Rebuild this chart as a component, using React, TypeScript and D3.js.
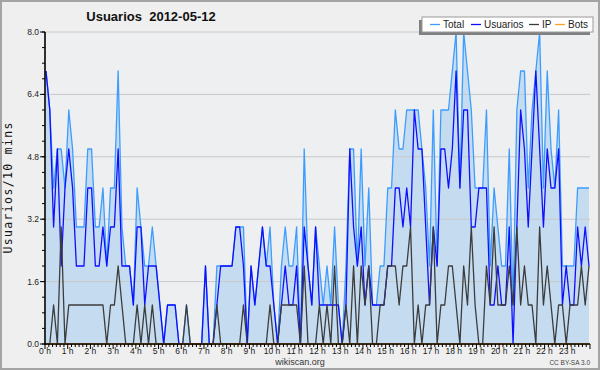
import React from "react";
import * as d3 from "d3";

const WIDTH = 600;
const HEIGHT = 370;
const PLOT = { left: 45, right: 590, top: 32, bottom: 344 };

// 10-minute buckets, 0h00 .. 23h50
const usuarios = [
  7, 6, 3, 5, 2, 4, 5, 4, 2, 2,
  2, 4, 4, 2, 2, 3, 2, 3, 3, 5,
  2, 2, 2, 1, 3, 3, 1, 2, 2, 2,
  1, 0, 1, 1, 1, 0, 0, 0, 0, 0,
  0, 0, 2, 0, 0, 1, 2, 2, 2, 2,
  3, 3, 2, 0, 2, 1, 2, 3, 2, 2,
  1, 0, 1, 2, 1, 1, 2, 0, 3, 2,
  1, 3, 1, 1, 1, 1, 1, 1, 0, 1,
  5, 3, 2, 3, 1, 2, 1, 1, 1, 1,
  2, 2, 4, 4, 3, 4, 3, 6, 5, 5,
  3, 1, 3, 2, 5, 5, 4, 5, 7, 4,
  6, 6, 3, 3, 4, 4, 4, 1, 1, 2,
  1, 1, 3, 0, 3, 6, 5, 3, 5, 7,
  5, 3, 5, 4, 4, 5, 1, 2, 1, 1,
  3, 2, 3, 2,
];

const ip = [
  0, 0, 1, 0, 3, 0, 1, 1, 1, 1,
  1, 1, 1, 1, 1, 1, 0, 1, 1, 2,
  1, 0, 0, 0, 1, 0, 1, 0, 1, 0,
  0, 0, 0, 0, 0, 0, 0, 1, 0, 0,
  0, 0, 0, 0, 0, 1, 0, 0, 0, 0,
  0, 0, 1, 0, 0, 0, 0, 0, 0, 1,
  0, 0, 1, 1, 1, 1, 1, 0, 2, 0,
  0, 0, 1, 0, 1, 0, 2, 0, 0, 1,
  0, 2, 0, 2, 1, 2, 0, 0, 1, 1,
  2, 2, 2, 1, 2, 2, 3, 0, 1, 0,
  1, 1, 3, 0, 1, 1, 2, 2, 1, 0,
  2, 1, 3, 1, 0, 0, 2, 1, 3, 1,
  1, 1, 2, 1, 3, 1, 2, 1, 1, 0,
  3, 1, 2, 1, 0, 1, 1, 0, 1, 1,
  1, 2, 1, 2,
];

const total = [
  7, 6, 4, 5, 5, 4, 6, 5, 3, 3,
  3, 5, 5, 3, 3, 4, 2, 4, 4, 7,
  3, 2, 2, 1, 4, 3, 2, 2, 3, 2,
  1, 0, 1, 1, 1, 0, 0, 1, 0, 0,
  0, 0, 2, 0, 0, 2, 2, 2, 2, 2,
  3, 3, 3, 0, 2, 1, 2, 3, 2, 3,
  1, 0, 2, 3, 2, 2, 3, 0, 5, 2,
  1, 3, 2, 1, 2, 1, 3, 1, 0, 2,
  5, 5, 2, 5, 2, 4, 1, 1, 2, 2,
  4, 4, 6, 5, 5, 6, 6, 6, 6, 5,
  4, 2, 6, 2, 6, 6, 6, 7, 8, 4,
  8, 7, 6, 4, 4, 4, 6, 2, 4, 3,
  2, 2, 5, 1, 6, 7, 7, 4, 6, 7,
  8, 4, 7, 5, 4, 6, 2, 2, 2, 2,
  4, 4, 4, 4,
];

const bots = [
  0, 0, 0, 0, 0, 0, 0, 0, 0, 0,
  0, 0, 0, 0, 0, 0, 0, 0, 0, 0,
  0, 0, 0, 0, 0, 0, 0, 0, 0, 0,
  0, 0, 0, 0, 0, 0, 0, 0, 0, 0,
  0, 0, 0, 0, 0, 0, 0, 0, 0, 0,
  0, 0, 0, 0, 0, 0, 0, 0, 0, 0,
  0, 0, 0, 0, 0, 0, 0, 0, 0, 0,
  0, 0, 0, 0, 0, 0, 0, 0, 0, 0,
  0, 0, 0, 0, 0, 0, 0, 0, 0, 0,
  0, 0, 0, 0, 0, 0, 0, 0, 0, 0,
  0, 0, 0, 0, 0, 0, 0, 0, 0, 0,
  0, 0, 0, 0, 0, 0, 0, 0, 0, 0,
  0, 0, 0, 0, 0, 0, 0, 0, 0, 0,
  0, 0, 0, 0, 0, 0, 0, 0, 0, 0,
  0, 0, 0, 0,
];

const yTicks = [0, 1.6, 3.2, 4.8, 6.4, 8.0];
const hourLabels = [
  "0 h", "1 h", "2 h", "3 h", "4 h", "5 h", "6 h", "7 h", "8 h", "9 h",
  "10 h", "11 h", "12 h", "13 h", "14 h", "15 h", "16 h", "17 h", "18 h",
  "19 h", "20 h", "21 h", "22 h", "23 h",
];

const seriesNames = ["Total", "Usuarios", "IP", "Bots"];
const seriesColors = ["#3d9dff", "#0f0fff", "#3c3c3c", "#ffa31a"];
const legendTextX = [443, 484, 542, 568];

const FONT = "'Liberation Sans', Arial, sans-serif";

const App = () => {
  const xScale = d3
    .scaleLinear()
    .domain([0, total.length - 1])
    .range([PLOT.left + 1, PLOT.right - 1]);
  const hourScale = d3
    .scaleLinear()
    .domain([0, 24])
    .range([PLOT.left, PLOT.right]);
  const yScale = d3
    .scaleLinear()
    .domain([0, 8])
    .range([PLOT.bottom, PLOT.top]);

  const line = d3
    .line<number>()
    .x((d, i) => xScale(i))
    .y((d) => yScale(d));
  const area = d3
    .area<number>()
    .x((d, i) => xScale(i))
    .y0(yScale(0))
    .y1((d) => yScale(d));

  const series = [total, usuarios, ip, bots];
  const minorY = d3.range(0, 20.5).map((k) => k * 0.4);
  const minorX = d3.range(0, 145).map((k) => k / 6);

  return (
    <svg
      width={WIDTH}
      height={HEIGHT}
      style={{ position: "absolute", left: 0, top: 0, display: "block" }}
      fontFamily={FONT}
    >
      <rect x={0} y={0} width={WIDTH} height={HEIGHT} fill="#efefef" />
      <rect
        x={1}
        y={1}
        width={WIDTH - 2}
        height={HEIGHT - 2}
        fill="none"
        stroke="#a4a4a4"
        strokeWidth={2}
      />
      <rect
        x={PLOT.left}
        y={PLOT.top}
        width={PLOT.right - PLOT.left}
        height={PLOT.bottom - PLOT.top}
        fill="#eeeff1"
      />

      {/* filled total */}
      <path d={area(total) || ""} fill="#c5dcf0" />

      {/* grid */}
      {yTicks.map((t) => (
        <line
          key={"g" + t}
          x1={PLOT.left}
          x2={PLOT.right}
          y1={yScale(t)}
          y2={yScale(t)}
          stroke="#c8c8c8"
          strokeWidth={1}
        />
      ))}

      {/* series lines */}
      {series.map((s, k) => (
        <path
          key={seriesNames[k]}
          d={line(s) || ""}
          fill="none"
          stroke={seriesColors[k]}
          strokeWidth={1.3}
          strokeLinejoin="round"
        />
      ))}

      {/* y axis */}
      <line
        x1={PLOT.left}
        x2={PLOT.left}
        y1={PLOT.top}
        y2={PLOT.bottom + 1}
        stroke="#000"
        strokeWidth={1.6}
      />
      {minorY.map((t) => (
        <line
          key={"my" + t}
          x1={PLOT.left - 3}
          x2={PLOT.left}
          y1={yScale(t)}
          y2={yScale(t)}
          stroke="#000"
          strokeWidth={1}
        />
      ))}
      {yTicks.map((t) => (
        <g key={"yt" + t}>
          <line
            x1={PLOT.left - 5}
            x2={PLOT.left}
            y1={yScale(t)}
            y2={yScale(t)}
            stroke="#000"
            strokeWidth={1}
          />
          <text
            x={PLOT.left - 6}
            y={yScale(t) + 3}
            textAnchor="end"
            fontSize={8.5}
            fill="#222"
          >
            {t.toFixed(1)}
          </text>
        </g>
      ))}
      <text
        transform={`translate(12, ${(PLOT.top + PLOT.bottom) / 2}) rotate(-90)`}
        textAnchor="middle"
        fontFamily="'DejaVu Sans Mono', monospace"
        fontSize={11.5}
        textLength={131}
        lengthAdjust="spacing"
        fill="#111"
      >
        Usuarios/10 mins
      </text>

      {/* x axis */}
      <line
        x1={PLOT.left}
        x2={PLOT.right}
        y1={PLOT.bottom}
        y2={PLOT.bottom}
        stroke="#000"
        strokeWidth={1.6}
      />
      {minorX.map((h, k) => (
        <line
          key={"mx" + k}
          x1={hourScale(h)}
          x2={hourScale(h)}
          y1={PLOT.bottom}
          y2={PLOT.bottom + (k % 6 === 0 ? 5 : 3)}
          stroke="#000"
          strokeWidth={1}
        />
      ))}
      {hourLabels.map((lab, h) => (
        <text
          key={lab}
          x={hourScale(h)}
          y={PLOT.bottom + 10}
          textAnchor="middle"
          fontSize={8.5}
          fill="#222"
        >
          {lab}
        </text>
      ))}
      <text x={300} y={365} textAnchor="middle" fontSize={9} fill="#333">
        wikiscan.org
      </text>
      <text x={590} y={365} textAnchor="end" fontSize={6.5} fill="#444">
        CC BY-SA 3.0
      </text>

      {/* title */}
      <text
        x={151}
        y={21}
        textAnchor="middle"
        fontSize={13}
        fontWeight="bold"
        fill="#111"
        style={{ whiteSpace: "pre" }}
      >
        {"Usuarios  2012-05-12"}
      </text>

      {/* legend */}
      <rect x={419} y={20} width={171} height={15} fill="#808080" />
      <rect
        x={422}
        y={17}
        width={171}
        height={15}
        fill="#ffffff"
        stroke="#9a9a9a"
        strokeWidth={1}
      />
      {seriesNames.map((name, k) => (
        <g key={"lg" + name}>
          <line
            x1={legendTextX[k] - 13}
            x2={legendTextX[k] - 3}
            y1={24.5}
            y2={24.5}
            stroke={seriesColors[k]}
            strokeWidth={1.3}
          />
          <text x={legendTextX[k]} y={28} fontSize={10} fill="#222">
            {name}
          </text>
        </g>
      ))}
    </svg>
  );
};

export default App;
